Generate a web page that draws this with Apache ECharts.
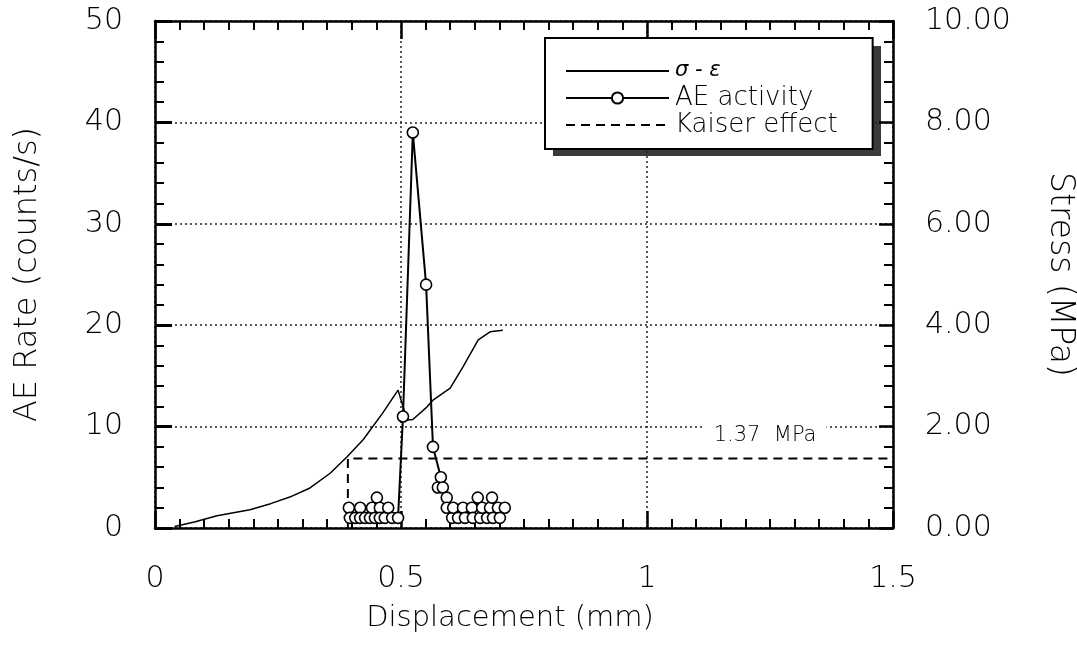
<!DOCTYPE html>
<html>
<head>
<meta charset="utf-8">
<script src="https://cdn.jsdelivr.net/npm/echarts@6/dist/echarts.min.js"></script>
<style>
  html, body { margin: 0; padding: 0; background: #fff; }
  #mainChart { width: 1077px; height: 646px; }
</style>
</head>
<body>
<div id="mainChart"></div>
<script>
// stress-displacement curve (right axis, MPa)
var stressDisp = [0.04, 0.08, 0.126, 0.193, 0.235, 0.274, 0.315, 0.356, 0.39, 0.423, 0.463, 0.494, 0.504, 0.512, 0.524, 0.553, 0.565, 0.6, 0.626, 0.657, 0.681, 0.707];
var stressMPa  = [0.03, 0.12, 0.24, 0.36, 0.48, 0.61, 0.79, 1.08, 1.40, 1.74, 2.27, 2.72, 2.40, 2.13, 2.14, 2.39, 2.52, 2.76, 3.18, 3.71, 3.87, 3.90];

// AE activity (left axis, counts/s)
var aeDisp = [0.394, 0.396, 0.407, 0.417, 0.417, 0.427, 0.437, 0.441, 0.447, 0.451,
              0.457, 0.457, 0.467, 0.474, 0.482, 0.494, 0.504, 0.524, 0.551, 0.565,
              0.581, 0.575, 0.585, 0.593, 0.593, 0.604, 0.606, 0.616, 0.626, 0.630,
              0.644, 0.646, 0.656, 0.661, 0.665, 0.675, 0.681, 0.685, 0.687, 0.697,
              0.701, 0.711];
var aeRate = [2, 1, 1, 2, 1, 1, 1, 2, 1, 3,
              2, 1, 1, 2, 1, 1, 11, 39, 24, 8,
              5, 4, 4, 3, 2, 1, 2, 1, 2, 1,
              2, 1, 3, 1, 2, 1, 2, 3, 1, 2,
              1, 2];

// Kaiser effect line
var kaiserDisp = [0.392, 0.392, 1.5];
var kaiserMPa  = [0, 1.37, 1.37];
var kaiserLabel = '1.37  MPa';

var seriesNames = ['σ - ε', 'AE activity', 'Kaiser effect'];

function pairs(xs, ys) {
  var out = [];
  for (var i = 0; i < xs.length; i++) out.push([xs[i], ys[i]]);
  return out;
}

var fontFamily = 'DejaVu Sans';
var fontWeight = 200;
var gridLine = { show: true, lineStyle: { color: '#222', type: [2, 3], width: 1.5 } };
var axisLine = { show: true, onZero: false, lineStyle: { color: '#000', width: 2.5 } };

var myChart = echarts.init(document.getElementById('mainChart'));
var option = {
  animation: false,
  backgroundColor: '#fff',
  textStyle: { fontFamily: fontFamily, fontWeight: fontWeight, color: '#000' },
  grid: { left: 155, right: 184, top: 21, bottom: 118, outerBoundsMode: 'none' },
  // drop shadow behind the legend box
  graphic: [{
    type: 'rect', left: 553, top: 46, z: 0,
    shape: { width: 328, height: 110 },
    style: { fill: '#3a3a3a' }
  }],
  legend: {
    orient: 'vertical',
    left: 545, top: 38,
    padding: [20, 35, 11, 20],
    itemGap: 1,
    itemWidth: 103,
    itemHeight: 14,
    selectedMode: false,
    backgroundColor: '#fff',
    borderColor: '#000',
    borderWidth: 2,
    borderRadius: 0,
    z: 5,
    textStyle: { fontSize: 26, lineHeight: 26, fontFamily: fontFamily, fontWeight: fontWeight, color: '#000', padding: [0, 0, 0, 1] },
    data: [
      { name: seriesNames[0], itemStyle: { opacity: 0 }, textStyle: { fontStyle: 'italic', fontWeight: 'normal', fontSize: 21 } },
      { name: seriesNames[1] },
      { name: seriesNames[2], itemStyle: { opacity: 0 } }
    ]
  },
  xAxis: [
    {
      type: 'value', min: 0, max: 1.5, interval: 0.5,
      name: 'Displacement (mm)', nameLocation: 'middle', nameGap: 76,
      nameTextStyle: { fontSize: 29, fontFamily: fontFamily, fontWeight: fontWeight, color: '#000', padding: [0, 28, 0, 0] },
      axisLine: axisLine,
      axisTick: { inside: true, length: 17, lineStyle: { color: '#000', width: 2.5 } },
      minorTick: { show: true, splitNumber: 10, length: 9, lineStyle: { color: '#000', width: 2 } },
      axisLabel: { fontSize: 30, margin: 36, color: '#000', fontWeight: fontWeight,
        formatter: function (v) { return String(v); } },
      splitLine: gridLine
    },
    {
      type: 'value', min: 0, max: 1.5, interval: 0.5, position: 'top',
      axisLine: axisLine,
      axisTick: { inside: true, length: 18, lineStyle: { color: '#000', width: 2.5 } },
      minorTick: { show: true, splitNumber: 10, length: 9, lineStyle: { color: '#000', width: 2 } },
      axisLabel: { show: false },
      splitLine: { show: false }
    }
  ],
  yAxis: [
    {
      type: 'value', min: 0, max: 50, interval: 10,
      name: 'AE Rate (counts/s)', nameLocation: 'middle', nameGap: 111,
      nameTextStyle: { fontSize: 32, fontFamily: fontFamily, fontWeight: fontWeight, color: '#000' },
      axisLine: axisLine,
      axisTick: { inside: true, length: 17, lineStyle: { color: '#000', width: 3 } },
      minorTick: { show: true, splitNumber: 5, length: 9, lineStyle: { color: '#000', width: 2 } },
      axisLabel: { fontSize: 30, margin: 32, color: '#000', fontWeight: fontWeight },
      splitLine: gridLine
    },
    {
      type: 'value', min: 0, max: 10, interval: 2, position: 'right',
      name: 'Stress (MPa)', nameLocation: 'middle', nameGap: 150, nameRotate: -90,
      nameTextStyle: { fontSize: 33, fontFamily: fontFamily, fontWeight: fontWeight, color: '#000' },
      axisLine: axisLine,
      axisTick: { inside: true, length: 14, lineStyle: { color: '#000', width: 2.5 } },
      minorTick: { show: true, splitNumber: 5, length: 9, lineStyle: { color: '#000', width: 2 } },
      axisLabel: { fontSize: 30, margin: 32, color: '#000', fontWeight: fontWeight,
        formatter: function (v) { return v.toFixed(2); } },
      splitLine: { show: false }
    }
  ],
  series: [
    {
      name: seriesNames[0],
      type: 'line',
      xAxisIndex: 0, yAxisIndex: 1,
      data: pairs(stressDisp, stressMPa),
      symbol: 'none',
      lineStyle: { color: '#000', width: 1.5 },
      itemStyle: { color: '#000' },
      z: 3
    },
    {
      name: seriesNames[1],
      type: 'line',
      xAxisIndex: 0, yAxisIndex: 0,
      data: pairs(aeDisp, aeRate),
      symbol: 'circle',
      symbolSize: 11,
      showAllSymbol: true,
      lineStyle: { color: '#000', width: 2 },
      itemStyle: { color: '#fff', borderColor: '#000', borderWidth: 1.6 },
      z: 4
    },
    {
      name: seriesNames[2],
      type: 'line',
      xAxisIndex: 0, yAxisIndex: 1,
      data: pairs(kaiserDisp, kaiserMPa),
      symbol: 'none',
      lineStyle: { color: '#000', width: 2, type: [9, 6] },
      itemStyle: { color: '#000' },
      z: 2,
      markPoint: {
        symbol: 'circle',
        symbolSize: 0,
        data: [{
          coord: [1.24, 1.37],
          label: {
            show: true, position: 'top', distance: 12,
            formatter: kaiserLabel,
            fontSize: 21, fontFamily: fontFamily, fontWeight: fontWeight, color: '#000',
            backgroundColor: '#fff', padding: [3, 10, 0, 10]
          }
        }]
      }
    }
  ]
};
myChart.setOption(option);
</script>
</body>
</html>
